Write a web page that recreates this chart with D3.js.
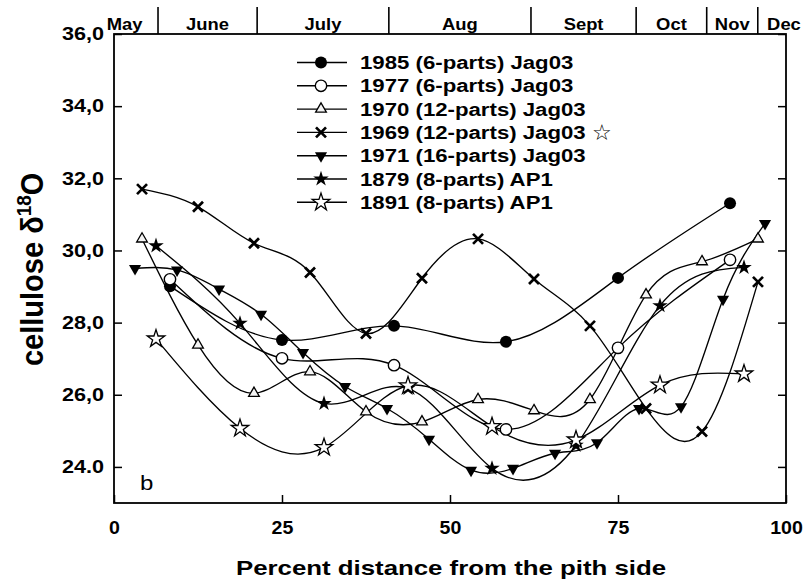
<!DOCTYPE html>
<html>
<head>
<meta charset="utf-8">
<script src="https://cdn.jsdelivr.net/npm/d3@7"></script>
<style>
  body { margin: 0; background: #fff; }
  svg { display: block; }
  text { font-family: "Liberation Sans", Arial, Helvetica, sans-serif; font-weight: bold; fill: #000; }
</style>
</head>
<body>
<svg id="chart" width="803" height="582"></svg>
<script>
// ---- data: percent distance from pith side (x) and cellulose d18O (y) ----
const x6 = [8.33, 25, 41.67, 58.33, 75, 91.67];
const y1985 = [29.01, 27.52, 27.91, 27.47, 29.24, 31.31];
const y1977 = [29.20, 27.01, 26.82, 25.04, 27.30, 29.74];

const x12 = [4.17, 12.5, 20.83, 29.17, 37.5, 45.83, 54.17, 62.5, 70.83, 79.17, 87.5, 95.83];
const y1970 = [30.32, 27.38, 26.04, 26.64, 25.53, 25.25, 25.87, 25.56, 25.87, 28.77, 29.69, 30.32];
const y1969 = [31.70, 31.21, 30.20, 29.39, 27.70, 29.23, 30.32, 29.21, 27.91, 25.62, 24.98, 29.13];

const x16 = [3.13, 9.38, 15.63, 21.88, 28.13, 34.38, 40.63, 46.88, 53.13, 59.38, 65.63, 71.88, 78.13, 84.38, 90.63, 96.88];
const y1971 = [29.50, 29.46, 28.93, 28.23, 27.17, 26.23, 25.62, 24.77, 23.91, 23.96, 24.38, 24.67, 25.62, 25.67, 28.65, 30.75];

const x8 = [6.25, 18.75, 31.25, 43.75, 56.25, 68.75, 81.25, 93.75];
const y1879 = [30.13, 27.98, 25.76, 26.18, 23.96, 24.60, 28.47, 29.53];
const y1891 = [27.55, 25.07, 24.54, 26.25, 25.12, 24.75, 26.27, 26.58];

const seriesNames = [
  "1985 (6-parts) Jag03",
  "1977 (6-parts) Jag03",
  "1970 (12-parts) Jag03",
  "1969 (12-parts) Jag03",
  "1971 (16-parts) Jag03",
  "1879 (8-parts) AP1",
  "1891 (8-parts) AP1"
];

const xTicks = [0, 25, 50, 75, 100];
const xTickLabels = ["0", "25", "50", "75", "100"];
const yTicks = [24, 26, 28, 30, 32, 34, 36];
const yTickLabels = ["24.0", "26,0", "28,0", "30,0", "32,0", "34,0", "36,0"];

// growing-season months along the top, bounded in percent-distance units
const monthNames = ["May", "June", "July", "Aug", "Sept", "Oct", "Nov", "Dec"];
const monthEdges = [-3.4, 6.55, 21.3, 40.9, 62.05, 77.7, 88.2, 95.8, 103.6];

// ---- layout ----
const svg = d3.select("#chart");
const X0 = 114, X1 = 786, Y0 = 34, Y1 = 503;
const SX = 1.2; // horizontal stretch of the lettering

const x = d3.scaleLinear().domain([0, 100]).range([X0, X1]);
const y = d3.scaleLinear().domain([23, 36]).range([Y1, Y0]);

const series = [
  { name: seriesNames[0], xs: x6,  ys: y1985, mark: "dot" },
  { name: seriesNames[1], xs: x6,  ys: y1977, mark: "ring" },
  { name: seriesNames[2], xs: x12, ys: y1970, mark: "triUp" },
  { name: seriesNames[3], xs: x12, ys: y1969, mark: "cross" },
  { name: seriesNames[4], xs: x16, ys: y1971, mark: "triDown" },
  { name: seriesNames[5], xs: x8,  ys: y1879, mark: "star" },
  { name: seriesNames[6], xs: x8,  ys: y1891, mark: "starOpen" }
];

function drawMark(g, kind, cx, cy) {
  const t = `translate(${cx},${cy})`;
  switch (kind) {
    case "dot":
      g.append("circle").attr("cx", cx).attr("cy", cy).attr("r", 6).attr("fill", "#000");
      break;
    case "ring":
      g.append("circle").attr("cx", cx).attr("cy", cy).attr("r", 5.7)
        .attr("fill", "#fff").attr("stroke", "#000").attr("stroke-width", 1.4);
      break;
    case "triUp":
      g.append("path").attr("d", d3.symbol(d3.symbolTriangle, 50)()).attr("transform", t)
        .attr("fill", "#f4f4f4").attr("stroke", "#000").attr("stroke-width", 1.3);
      break;
    case "triDown":
      g.append("path").attr("d", d3.symbol(d3.symbolTriangle, 64)()).attr("transform", t + " rotate(180)")
        .attr("fill", "#000");
      break;
    case "cross":
      g.append("path").attr("d", "M-5,-5L5,5M-5,5L5,-5").attr("transform", t)
        .attr("fill", "none").attr("stroke", "#000").attr("stroke-width", 2.7);
      break;
    case "star":
      g.append("path").attr("d", d3.symbol(d3.symbolStar, 75)()).attr("transform", t)
        .attr("fill", "#000");
      break;
    case "starOpen":
      g.append("path").attr("d", d3.symbol(d3.symbolStar, 95)()).attr("transform", t)
        .attr("fill", "#fff").attr("stroke", "#000").attr("stroke-width", 1.3);
      break;
  }
}

// plot frame
svg.append("rect").attr("x", X0).attr("y", Y0).attr("width", X1 - X0).attr("height", Y1 - Y0)
  .attr("fill", "none").attr("stroke", "#000").attr("stroke-width", 1.8);

// left axis with inward ticks
const gy = svg.append("g").attr("transform", `translate(${X0},0)`)
  .call(d3.axisLeft(y).tickValues(yTicks).tickFormat((d, i) => yTickLabels[i])
    .tickSizeInner(-8).tickSizeOuter(0).tickPadding(10));
gy.select(".domain").remove();
gy.selectAll("line").attr("stroke-width", 1.5);
gy.selectAll("text").attr("x", -10 / SX).attr("transform", `scale(${SX},1)`).style("font-size", "18px");

// right axis, ticks only
const gr = svg.append("g").attr("transform", `translate(${X1},0)`)
  .call(d3.axisRight(y).tickValues(yTicks).tickFormat("").tickSizeInner(-8).tickSizeOuter(0));
gr.select(".domain").remove();
gr.selectAll("line").attr("stroke-width", 1.5);

// bottom axis with inward ticks
const gx = svg.append("g").attr("transform", `translate(0,${Y1})`)
  .call(d3.axisBottom(x).tickValues(xTicks).tickFormat((d, i) => xTickLabels[i])
    .tickSizeInner(-8).tickSizeOuter(0).tickPadding(19));
gx.select(".domain").remove();
gx.selectAll("line").attr("stroke-width", 1.5);
gx.selectAll("text").attr("transform", "scale(1.12,1)").style("font-size", "17.5px");

// month band along the top
const gm = svg.append("g");
monthEdges.slice(1, -1).forEach(e => {
  gm.append("line").attr("x1", x(e)).attr("x2", x(e)).attr("y1", 7).attr("y2", Y0)
    .attr("stroke", "#000").attr("stroke-width", 1.6);
});
monthNames.forEach((m, i) => {
  const cx = x((monthEdges[i] + monthEdges[i + 1]) / 2);
  gm.append("text").attr("transform", `translate(${cx},29.5) scale(1.15,1)`)
    .attr("text-anchor", "middle").style("font-size", "16px").text(m);
});

// smoothed series lines, then markers on top
const line = d3.line().x(d => x(d[0])).y(d => y(d[1])).curve(d3.curveNatural);
const gl = svg.append("g");
series.forEach(s => {
  gl.append("path").attr("d", line(s.xs.map((v, i) => [v, s.ys[i]])))
    .attr("fill", "none").attr("stroke", "#000").attr("stroke-width", 1.35);
});
const gp = svg.append("g");
series.forEach(s => {
  s.xs.forEach((v, i) => drawMark(gp, s.mark, x(v), y(s.ys[i])));
});

// legend
const gLeg = svg.append("g");
series.forEach((s, i) => {
  const ry = 62.5 + i * 23.3;
  gLeg.append("line").attr("x1", 297).attr("x2", 347).attr("y1", ry).attr("y2", ry)
    .attr("stroke", "#000").attr("stroke-width", 1.4);
  drawMark(gLeg, s.mark, 321, ry);
  gLeg.append("text").attr("transform", `translate(360,${ry + 6.5}) scale(${SX},1)`)
    .style("font-size", "18.5px").text(s.name);
});
gLeg.append("text").attr("x", 592).attr("y", 62.5 + 3 * 23.3 + 8)
  .style("font-family", "'DejaVu Sans', sans-serif").style("font-weight", "normal")
  .style("font-size", "22px").text("☆");

// panel letter
svg.append("text").attr("transform", `translate(140,490) scale(${SX},1)`)
  .style("font-weight", "normal").style("font-size", "20px").text("b");

// axis titles
svg.append("text").attr("transform", `translate(451,575) scale(1.23,1)`)
  .attr("text-anchor", "middle").style("font-size", "21px").text("Percent distance from the pith side");

const yt = svg.append("text").attr("transform", "translate(43,366) rotate(-90) scale(1,1.08)")
  .attr("text-anchor", "start").style("font-size", "29px");
yt.append("tspan").text("cellulose δ");
yt.append("tspan").attr("dy", -11).style("font-size", "19px").text("18");
yt.append("tspan").attr("dy", 11).text("O");
</script>
</body>
</html>
